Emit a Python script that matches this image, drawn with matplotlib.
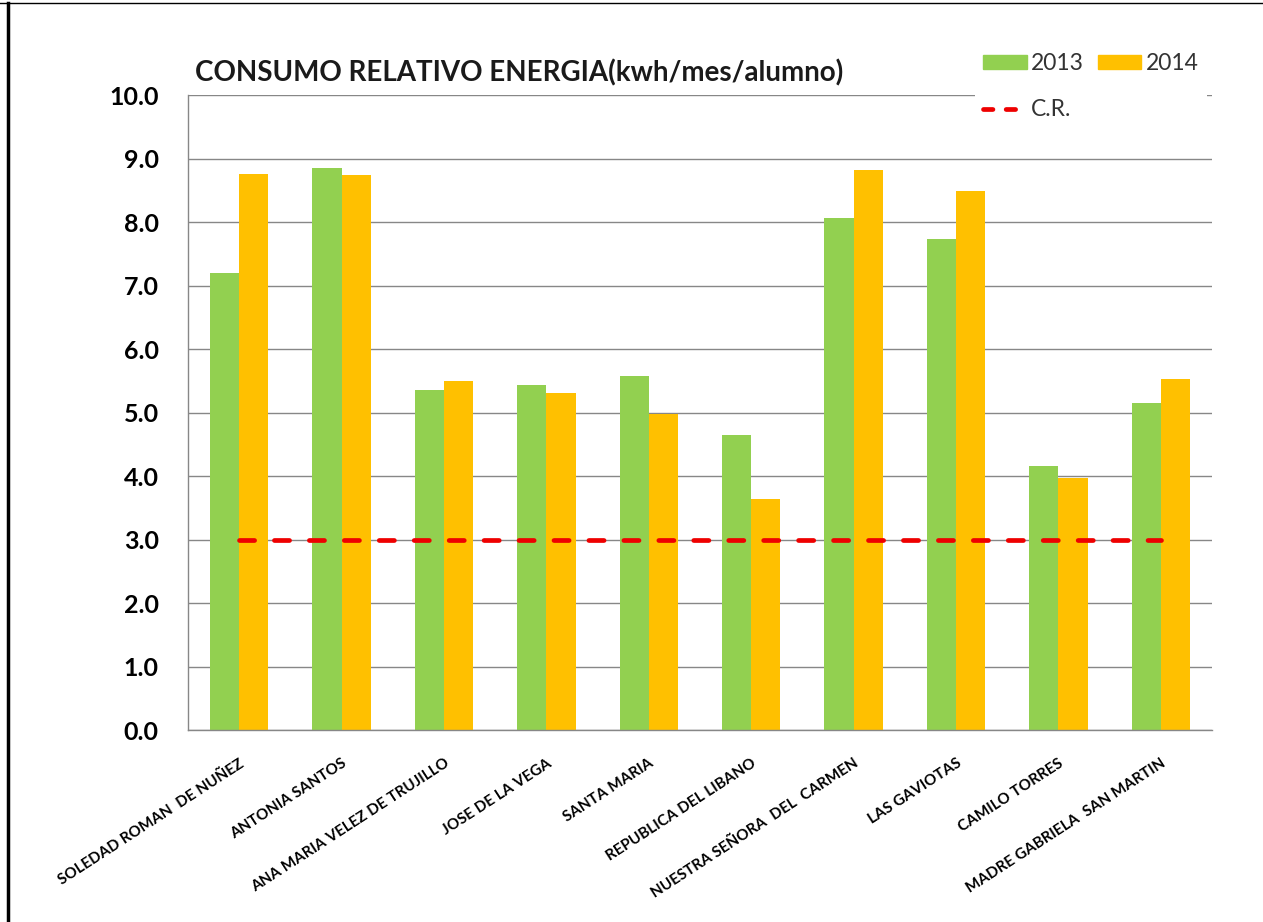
import matplotlib
matplotlib.use("Agg")
import matplotlib.pyplot as plt
import numpy as np
from matplotlib.patches import Patch
from matplotlib.lines import Line2D

categories = ["SOLEDAD ROMAN  DE NUÑEZ", "ANTONIA SANTOS", "ANA MARIA VELEZ DE TRUJILLO",
              "JOSE DE LA VEGA", "SANTA MARIA", "REPUBLICA DEL LIBANO",
              "NUESTRA SEÑORA  DEL  CARMEN", "LAS GAVIOTAS", "CAMILO TORRES",
              "MADRE GABRIELA  SAN MARTIN"]
v2013 = [7.20, 8.85, 5.35, 5.43, 5.58, 4.65, 8.07, 7.73, 4.15, 5.15]
v2014 = [8.76, 8.74, 5.49, 5.31, 4.97, 3.64, 8.82, 8.49, 3.97, 5.52]
cr = [3.0] * 10
yticks = [0, 1, 2, 3, 4, 5, 6, 7, 8, 9, 10]

W, H = 1263, 922
fig = plt.figure(figsize=(W / 100, H / 100), dpi=100)
fig.patch.set_facecolor("white")
ax = fig.add_axes([188 / W, 1 - 730 / H, (1212 - 188) / W, (730 - 95) / H])

x = np.arange(len(categories))
bw = 0.285
green = "#92D050"
orange = "#FFC000"
grid_c = "#878787"
red = "#EE0000"

ax.bar(x - bw / 2, v2013, width=bw, color=green, zorder=2, label="2013")
ax.bar(x + bw / 2, v2014, width=bw, color=orange, zorder=2, label="2014")
ax.plot(x, cr, color=red, lw=3.4, dash_capstyle="round",
        linestyle=(0, (3.2, 4.2)), zorder=3, label="C.R.")

ax.set_xlim(-0.5, len(categories) - 0.5)
ax.set_ylim(0, 10)
ax.set_yticks(yticks)
ax.set_yticklabels([f"{v:.1f}" for v in yticks], fontfamily="Lato",
                   fontweight="bold", fontsize=18)
ax.yaxis.grid(True, color=grid_c, lw=1, zorder=0)
ax.set_axisbelow(True)
ax.tick_params(axis="y", length=0, pad=21)
ax.tick_params(axis="x", length=0, pad=19)
ax.set_xticks(x)
ax.set_xticklabels(categories, rotation=33, ha="right", va="top",
                   rotation_mode="anchor", fontfamily="Lato",
                   fontweight="bold", fontsize=11)
for s in ["top", "right"]:
    ax.spines[s].set_visible(False)
for s in ["left", "bottom"]:
    ax.spines[s].set_color(grid_c)
    ax.spines[s].set_linewidth(1)

fig.text(195 / W, 1 - 73 / H, "CONSUMO RELATIVO ENERGIA(kwh/mes/alumno)",
         fontfamily="Lato", fontweight="bold", fontsize=20, color="#1a1a1a",
         ha="left", va="center")

handles = [Patch(color=green, label="2013"),
           Line2D([], [], color=red, lw=3.4, dash_capstyle="round",
                  linestyle=(0, (2.0, 2.8)), label="C.R."),
           Patch(color=orange, label="2014")]
leg = fig.legend(handles=handles, loc="upper left",
                 bbox_to_anchor=(975 / W, 1 - 45 / H), ncol=2,
                 prop={"family": "Lato", "size": 16.5},
                 frameon=True, facecolor="white", edgecolor="none",
                 framealpha=1, fancybox=False, handlelength=1.9,
                 handleheight=0.6, handletextpad=0.2, columnspacing=0.6,
                 labelspacing=1.1, borderpad=0.35, borderaxespad=0)
for t in leg.get_texts():
    t.set_color("#333333")

# outer border
fig.add_artist(Line2D([8 / W, 8 / W], [0, 1 - 3 / H], color="black", lw=2.5,
                      transform=fig.transFigure))
fig.add_artist(Line2D([0, 1], [1 - 3 / H, 1 - 3 / H], color="black", lw=1,
                      transform=fig.transFigure))

fig.savefig("out.png", dpi=100, facecolor="white")
